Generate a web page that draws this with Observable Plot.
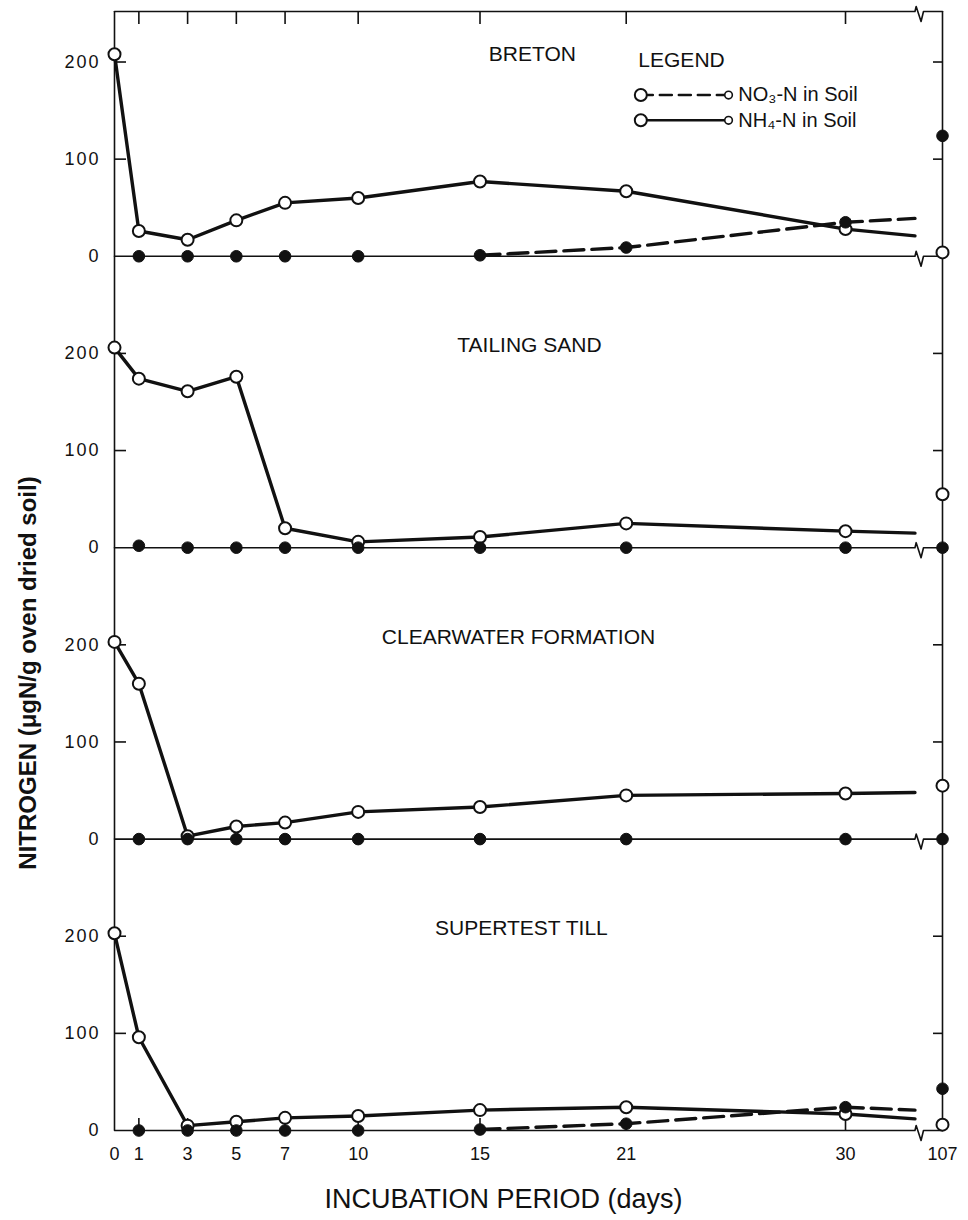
<!DOCTYPE html>
<html>
<head>
<meta charset="utf-8">
<script src="https://cdn.jsdelivr.net/npm/d3@7"></script>
<script src="https://cdn.jsdelivr.net/npm/@observablehq/plot@0.6"></script>
<style>
  html, body { margin: 0; padding: 0; background: #fff; }
  #chart { width: 968px; height: 1220px; }
</style>
</head>
<body>
<div id="chart"></div>
<script>
// ---------------- data ----------------
const soils = ["BRETON", "TAILING SAND", "CLEARWATER FORMATION", "SUPERTEST TILL"];
const days = [0, 1, 3, 5, 7, 10, 15, 21, 30];          // NH4 sampling days
const no3Days = [1, 3, 5, 7, 10, 15, 21, 30];          // NO3 sampling days
const lateDay = 107;                                   // last sampling, after axis break
const xTickLabels = [0, 1, 3, 5, 7, 10, 15, 21, 30, 107];
const yTickValues = [0, 100, 200];
const ySideTicks = [100, 200];

// NH4-N in soil (µg N / g oven dried soil)
const nh4Breton     = [208, 26, 17, 37, 55, 60, 77, 67, 28];
const nh4Tailing    = [206, 174, 161, 176, 20, 6, 11, 25, 17];
const nh4Clearwater = [203, 160, 3, 13, 17, 28, 33, 45, 47];
const nh4Supertest  = [203, 96, 5, 9, 13, 15, 21, 24, 17];
const nh4AtBreak    = [21, 15, 48, 12];    // where the line is cut by the axis break
const nh4Day107     = [4, 55, 55, 6];

// NO3-N in soil
const no3Breton     = [0, 0, 0, 0, 0, 1, 9, 35];
const no3Tailing    = [2, 0, 0, 0, 0, 0, 0, 0];
const no3Clearwater = [0, 0, 0, 0, 0, 0, 0, 0];
const no3Supertest  = [0, 0, 0, 0, 0, 1, 7, 24];
const no3AtBreak    = [39, 0, 0, 21];
const no3Day107     = [124, 0, 0, 43];

const legendLabels = ["NO₃-N in Soil", "NH₄-N in Soil"];

// ---------------- layout ----------------
const W = 968, H = 1220;
const ML = 114, MR = 26, MT = 11, MB = 90;
const PX_PER_DAY = 24.367;
const BREAK_DAY = 33.2;        // position of the axis break
const CUT_DAY = 32.85;         // lines stop just before the break
const PANEL_SPAN = 300;        // value units between stacked panels
const TOP_VALUE = 3 * PANEL_SPAN + 252;
const kY = (H - MB - MT) / TOP_VALUE;   // px per value unit
const offset = i => (soils.length - 1 - i) * PANEL_SPAN;
const TITLE_DAYS = [17.15, 17.03, 16.58, 16.7], TITLE_LEVEL = 208;
const LEGEND_DAY = 23.27, LEGEND_LEVEL = 202;
const LEG_X0 = 21.6, LEG_X1 = 25.2, LEG_TEXT_X = 25.6;
const LEG_LEVELS = [166, 140];

const nh4Series = [nh4Breton, nh4Tailing, nh4Clearwater, nh4Supertest];
const no3Series = [no3Breton, no3Tailing, no3Clearwater, no3Supertest];

// ---------------- derived tables ----------------
const nh4Line = [], nh4Dots = [], no3Dash = [], no3Dots = [], titleRows = [];
soils.forEach((soil, i) => {
  const o = offset(i);
  days.forEach((d, j) => {
    nh4Line.push({soil, day: d, y: nh4Series[i][j] + o});
    nh4Dots.push({soil, day: d, y: nh4Series[i][j] + o});
  });
  nh4Line.push({soil, day: CUT_DAY, y: nh4AtBreak[i] + o});
  nh4Dots.push({soil, day: lateDay, y: nh4Day107[i] + o});

  const v = no3Series[i];
  no3Days.forEach((d, j) => no3Dots.push({soil, day: d, y: v[j] + o}));
  no3Dots.push({soil, day: lateDay, y: no3Day107[i] + o});
  const firstRise = v.findIndex(x => x > 2);
  if (firstRise > 0) {
    for (let j = firstRise - 1; j < v.length; j++) no3Dash.push({soil, day: no3Days[j], y: v[j] + o});
    no3Dash.push({soil, day: CUT_DAY, y: no3AtBreak[i] + o});
  }
  titleRows.push({soil, day: TITLE_DAYS[i], y: TITLE_LEVEL + o});
});

// horizontal lines (top frame + zero lines) with the axis-break zigzag
function brokenLine(id, base) {
  const up = 5 / kY, down = 10 / kY;
  return [[0, 0], [CUT_DAY, 0], [CUT_DAY + 0.05, up], [BREAK_DAY - 0.1, -down], [BREAK_DAY, 0], [lateDay, 0]]
    .map(([d, dy]) => ({id, day: d, y: base + dy}));
}
const hLines = [...brokenLine("top", TOP_VALUE), ...soils.flatMap((s, i) => brokenLine(s, offset(i)))];

const labelTicks = soils.flatMap((s, i) => yTickValues.map(t => t + offset(i)));
const sideTicks = soils.flatMap((s, i) => ySideTicks.map(t => t + offset(i)));

// legend tables
const legRows = legendLabels.map((label, k) => ({label, y: LEG_LEVELS[k] + offset(0)}));
const legDash = [{day: LEG_X0, y: legRows[0].y}, {day: LEG_X1, y: legRows[0].y}];
const legSolid = [{day: LEG_X0, y: legRows[1].y}, {day: LEG_X1, y: legRows[1].y}];

const INK = "#111";
const chart = Plot.plot({
  width: W, height: H,
  marginLeft: ML, marginRight: MR, marginTop: MT, marginBottom: MB,
  x: {type: "linear", domain: [0, BREAK_DAY, lateDay], range: [ML, ML + BREAK_DAY * PX_PER_DAY, W - MR]},
  y: {type: "linear", domain: [0, TOP_VALUE]},
  style: {fontFamily: "'Liberation Sans', Arial, Helvetica, sans-serif", fontSize: "18px", color: INK, background: "#fff"},
  marks: [
    Plot.ruleX([0, lateDay], {stroke: INK, strokeWidth: 1.6}),
    Plot.line(hLines, {x: "day", y: "y", z: "id", stroke: INK, strokeWidth: 1.6}),
    Plot.axisY({anchor: "left", ticks: sideTicks, tickSize: 12, dx: 12, tickFormat: () => "", label: null, strokeWidth: 1.6}),
    Plot.axisY({anchor: "right", ticks: sideTicks, tickSize: 10, dx: -10, tickFormat: () => "", label: null, strokeWidth: 1.6}),
    Plot.axisX({anchor: "top", ticks: days.slice(1), tickSize: 12, dy: 12, tickFormat: () => "", label: null, strokeWidth: 1.6}),
    Plot.axisX({anchor: "bottom", ticks: days.slice(1), tickSize: 12, dy: -12, tickFormat: () => "", label: null, strokeWidth: 1.6}),
    Plot.axisY({anchor: "left", ticks: labelTicks, tickSize: 0, tickPadding: 14, tickFormat: v => String(Math.round(v % PANEL_SPAN)), label: null, fontSize: 18}),
    Plot.axisX({anchor: "bottom", ticks: xTickLabels, tickSize: 0, tickPadding: 17, tickFormat: d => String(d), label: null, fontSize: 18}),

    Plot.line(no3Dash, {x: "day", y: "y", z: "soil", stroke: INK, strokeWidth: 3.4, strokeDasharray: "20,8"}),
    Plot.line(nh4Line, {x: "day", y: "y", z: "soil", stroke: INK, strokeWidth: 3.4}),
    Plot.dot(nh4Dots, {x: "day", y: "y", r: 6, fill: "#fff", stroke: INK, strokeWidth: 2}),
    Plot.dot(no3Dots, {x: "day", y: "y", r: 5.8, fill: INK, stroke: INK, strokeWidth: 1}),

    Plot.text(titleRows, {x: "day", y: "y", text: "soil", fontSize: 21, textAnchor: "middle", lineAnchor: "middle", ariaLabel: "panel title"}),

    // legend
    Plot.text(["LEGEND"], {x: LEGEND_DAY, y: LEGEND_LEVEL + offset(0), fontSize: 21, textAnchor: "middle", lineAnchor: "middle", ariaLabel: "legend title"}),
    Plot.line(legDash, {x: "day", y: "y", stroke: INK, strokeWidth: 2.5, strokeDasharray: "12,7"}),
    Plot.line(legSolid, {x: "day", y: "y", stroke: INK, strokeWidth: 2.5}),
    Plot.dot([...legDash.slice(0, 1), ...legSolid.slice(0, 1)], {x: "day", y: "y", r: 6, fill: "#fff", stroke: INK, strokeWidth: 2}),
    Plot.dot([...legDash.slice(1), ...legSolid.slice(1)], {x: "day", y: "y", r: 3.8, fill: "#fff", stroke: INK, strokeWidth: 1.6}),
    Plot.text(legRows, {x: LEG_TEXT_X, y: "y", text: "label", fontSize: 20, textAnchor: "start", lineAnchor: "middle", ariaLabel: "legend label"}),

    // axis titles
    Plot.text(["INCUBATION PERIOD (days)"], {frameAnchor: "bottom", textAnchor: "middle", dx: -25, dy: 69, fontSize: 27, lineAnchor: "middle", ariaLabel: "x title"}),
    Plot.text(["NITROGEN (μgN/g oven dried soil)"], {frameAnchor: "left", textAnchor: "middle", rotate: -90, dx: -86, dy: 102, fontSize: 24, fontWeight: "bold", lineAnchor: "middle", ariaLabel: "y title"})
  ]
});

const svg = d3.select(chart);
svg.selectAll("g[aria-label='y-axis tick label'] text").style("letter-spacing", "2px");
svg.selectAll("g[aria-label='panel title'] text").style("letter-spacing", "1.8px");
svg.selectAll("g[aria-label='legend title'] text").style("letter-spacing", "0.6px");
svg.selectAll("g[aria-label='legend label'] text").style("letter-spacing", "2.2px");
svg.selectAll("g[aria-label='x title'] text").style("letter-spacing", "4.5px");
svg.selectAll("g[aria-label='y title'] text").style("letter-spacing", "3.4px");
document.getElementById("chart").appendChild(chart);
</script>
</body>
</html>
